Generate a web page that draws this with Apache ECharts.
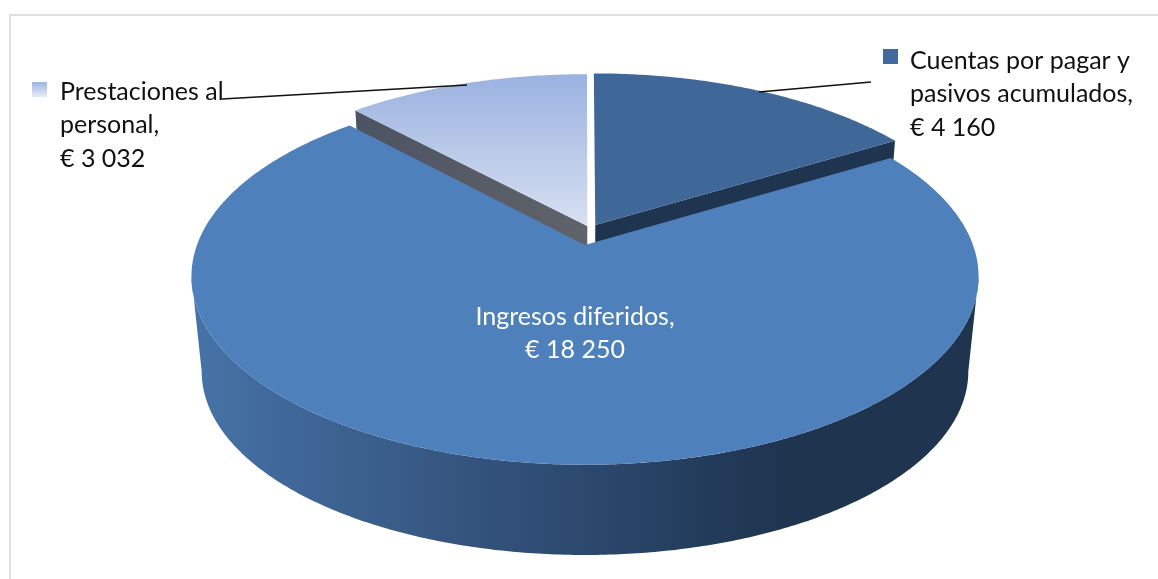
<!DOCTYPE html>
<html>
<head>
<meta charset="utf-8">
<style>
html, body { margin: 0; padding: 0; background: #fff; }
#chart { width: 1158px; height: 579px; }
</style>
<script src="https://cdn.jsdelivr.net/npm/echarts@6/dist/echarts.min.js"></script>
</head>
<body>
<div id="chart"></div>
<script>
var categories = ["Cuentas por pagar y\npasivos acumulados,", "Ingresos diferidos,", "Prestaciones al\npersonal,"];
var values = [4160, 18250, 3032];

// clockwise from 12 o'clock, same as the office pie
var total = 0;
for (var i = 0; i < values.length; i++) {
    total += values[i];
}

function money(v) {
    return "€ " + String(v).replace(/\B(?=(\d{3})+$)/g, " ");
}

// look of the tilted pie
var cx = 585, cy = 245, rx = 388, ry = 183, tilt = 0.167;
var wallDrop = 96, wallScale = 0.974;
var font = "25px Lato";

var grad = echarts.graphic.LinearGradient;
var sliceStyle = [
    {
        top: "#3f6899", wall: "#1f344f", du: 0.027, dv: 0.112,
        key: [883, 49], keyFill: "#416b9e", text: [910, 44], color: "#111",
        leader: [[759, 92], [871, 82]]
    },
    {
        top: "#4e80bb", du: 0, dv: 0, text: [575, 300], color: "#fff", align: "center",
        frontWall: new grad(0, 0, 1, 0, [
            { offset: 0, color: "#4674a8" },
            { offset: 0.13, color: "#3f6797" },
            { offset: 0.34, color: "#35557f" },
            { offset: 0.65, color: "#233c5c" },
            { offset: 0.76, color: "#1f344e" },
            { offset: 1, color: "#1f344e" }
        ])
    },
    {
        top: new grad(0, 0, 0, 1, [
            { offset: 0, color: "#9ab2df" },
            { offset: 1, color: "#d8e0f1" }
        ]),
        wall: new grad(0, 0, 1, 0, [
            { offset: 0, color: "#4c5362" },
            { offset: 1, color: "#606369" }
        ]),
        du: 0.006, dv: 0.106,
        key: [32, 82], text: [60, 75], color: "#111",
        keyFill: new grad(0, 0, 0, 1, [
            { offset: 0, color: "#9fb6e0" },
            { offset: 1, color: "#e6ebf6" }
        ]),
        leader: [[222, 99], [467, 85]]
    }
];

// disc point -> screen, with perspective
function project(u, v, st, low) {
    var w = 1 + tilt * (v + st.dv);
    var s = low ? wallScale : 1;
    return [
        cx + s * rx * (u + st.du) / w,
        cy + (low ? wallDrop : 0) - s * ry * (v + st.dv) / w
    ];
}

function arcPoints(a0, a1, st, low) {
    var pts = [];
    var steps = Math.max(2, Math.ceil(Math.abs(a1 - a0) / 0.01));
    for (var i = 0; i <= steps; i++) {
        var a = a0 + (a1 - a0) * i / steps;
        pts.push(project(Math.sin(a), Math.cos(a), st, low));
    }
    return pts;
}

function renderSlice(params, api) {
    var idx = params.dataIndex;
    var st = sliceStyle[idx];
    var before = 0;
    for (var i = 0; i < idx; i++) {
        before += values[i];
    }
    var a0 = before / total * Math.PI * 2;
    var a1 = (before + api.value(0)) / total * Math.PI * 2;
    var big = idx === 1;
    var base = big ? 10 : 0;
    var kids = [];
    var apexTop = project(0, 0, st, false);
    var apexLow = project(0, 0, st, true);
    var first = project(Math.sin(a0), Math.cos(a0), st, false);
    var firstLow = project(Math.sin(a0), Math.cos(a0), st, true);
    var last = project(Math.sin(a1), Math.cos(a1), st, false);
    var lastLow = project(Math.sin(a1), Math.cos(a1), st, true);

    if (big) {
        // only the part of the rim that faces the viewer
        var side = Math.acos(-tilt);
        var from = Math.max(a0, side);
        var to = Math.min(a1, Math.PI * 2 - side);
        var rim = arcPoints(from, to, st, false).concat(arcPoints(to, from, st, true));
        kids.push({ type: "polygon", shape: { points: rim }, style: { fill: st.frontWall }, z2: base });
    } else if (idx === 0) {
        kids.push({ type: "polygon", shape: { points: [apexTop, last, lastLow, apexLow] }, style: { fill: st.wall }, z2: base });
    } else {
        kids.push({ type: "polygon", shape: { points: [apexTop, first, firstLow, apexLow] }, style: { fill: st.wall }, z2: base });
    }

    var face = [apexTop].concat(arcPoints(a0, a1, st, false));
    kids.push({ type: "polygon", shape: { points: face }, style: { fill: st.top }, z2: base + 1 });

    kids.push({
        type: "text",
        z2: 30,
        style: {
            text: categories[idx] + "\n" + money(api.value(0)),
            x: st.text[0],
            y: st.text[1],
            font: font,
            fill: st.color,
            align: st.align || "left",
            lineHeight: 33.5
        }
    });

    if (st.key) {
        kids.push({
            type: "rect",
            z2: 30,
            shape: { x: st.key[0], y: st.key[1], width: 15, height: 15 },
            style: { fill: st.keyFill }
        });
    }
    if (st.leader) {
        kids.push({
            type: "line",
            z2: 31,
            shape: { x1: st.leader[0][0], y1: st.leader[0][1], x2: st.leader[1][0], y2: st.leader[1][1] },
            style: { stroke: "#111", lineWidth: 1.5 }
        });
    }
    return { type: "group", children: kids };
}

var myChart = echarts.init(document.getElementById("chart"));

myChart.setOption({
    backgroundColor: "#fff",
    animation: false,
    graphic: [
        { type: "line", shape: { x1: 10, y1: 15, x2: 1158, y2: 15 }, style: { stroke: "#dfdfdf", lineWidth: 2 }, silent: true },
        { type: "line", shape: { x1: 10, y1: 14, x2: 10, y2: 579 }, style: { stroke: "#dfdfdf", lineWidth: 2 }, silent: true }
    ],
    series: [{
        type: "custom",
        coordinateSystem: "none",
        renderItem: renderSlice,
        data: values.map(function (v, i) {
            return { name: categories[i], value: [v] };
        })
    }]
});
</script>
</body>
</html>
